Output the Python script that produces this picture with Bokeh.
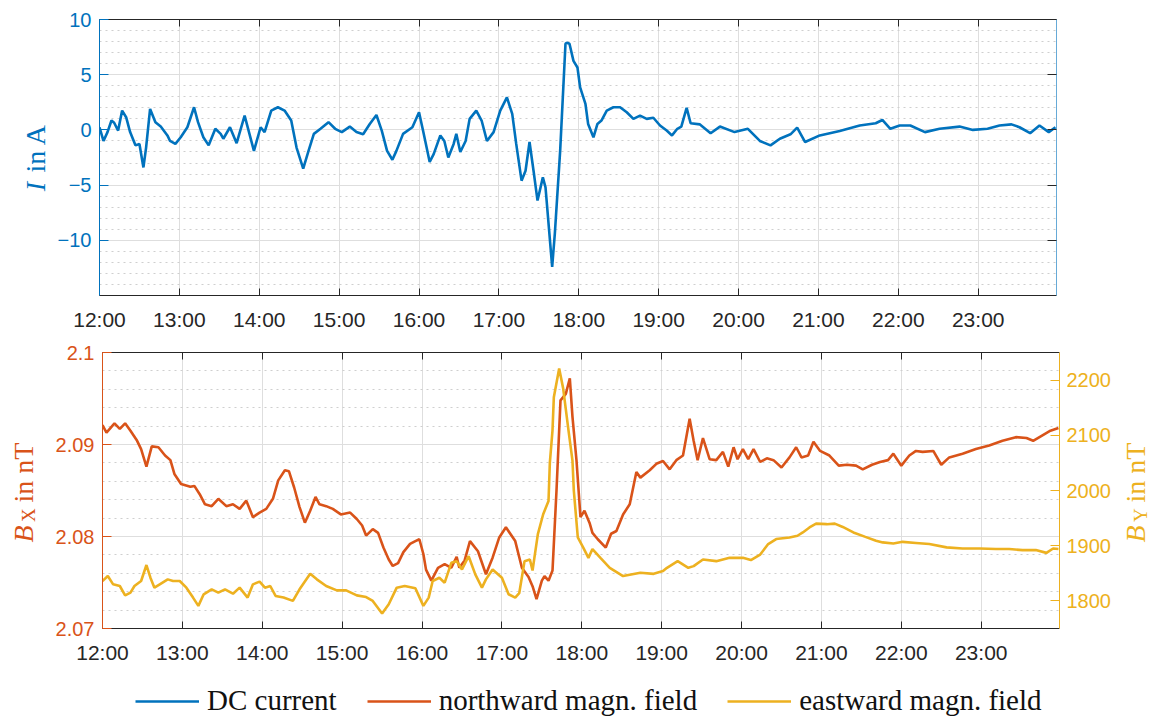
import numpy as np
from bokeh.plotting import figure
from bokeh.models import (Range1d, LinearAxis, FixedTicker, SingleIntervalTicker, Grid,
                          Legend, LegendItem)
from bokeh.layouts import column, row
from bokeh.embed import file_html
from bokeh.resources import INLINE

# ---------------- data (time in minutes after 12:00) ----------------
hour_ticks = [0, 60, 120, 180, 240, 300, 360, 420, 480, 540, 600, 660]
hour_labels = ["12:00", "13:00", "14:00", "15:00", "16:00", "17:00",
               "18:00", "19:00", "20:00", "21:00", "22:00", "23:00"]
cur_ticks = [-10, -5, 0, 5, 10]

cur_t = [0, 3, 6, 9, 11, 14, 17, 20, 23, 27, 30, 33, 35, 38, 42, 46, 51, 53, 57, 61,
         66, 71, 74, 78, 82, 87, 91, 93, 98, 103, 109, 116, 121, 124, 129, 134, 139, 144,
         148, 153, 157, 161, 166, 172, 177, 182, 188, 193, 198, 203, 208, 212, 216, 220,
         223, 228, 235, 240, 243, 248, 251, 256, 259, 262, 266, 268, 271, 275, 278, 283,
         287, 291, 296, 301, 306, 310, 313, 317, 320, 323, 326, 329, 333, 335, 340, 342,
         346, 350, 351, 353, 356, 359, 361, 365, 367, 371, 374, 377, 381, 386, 391, 396,
         401, 406, 411, 416, 421, 426, 430, 434, 437, 441, 444, 451, 459, 466, 477, 487,
         496, 504, 511, 519, 524, 530, 541, 556, 571, 583, 588, 594, 601, 609, 620, 631,
         646, 656, 667, 676, 685, 691, 699, 706, 713, 718]
cur_v = [0.23, -1.0, -0.2, 0.85, 0.65, -0.06, 1.75, 1.15, -0.2, -1.4, -1.27, -3.4, -1.6,
         1.9, 0.7, 0.3, -0.5, -1.0, -1.27, -0.67, 0.24, 2.05, 0.7, -0.67, -1.4, 0.1, -0.36,
         -0.8, 0.24, -1.2, 1.3, -1.9, 0.24, -0.2, 1.75, 2.05, 1.75, 0.85, -1.6, -3.5, -1.9,
         -0.36, 0.1, 0.7, 0.1, -0.2, 0.3, -0.2, -0.4, 0.54, 1.35, -0.06, -1.9, -2.7, -1.9,
         -0.36, 0.24, 1.6, -0.06, -2.9, -2.2, -0.5, -1.0, -2.5, -1.27, -0.36, -2.0, -1.0,
         1.0, 1.75, 0.85, -1.0, -0.2, 1.75, 2.95, 1.45, -1.27, -4.6, -3.7, -1.1, -3.7,
         -6.4, -4.3, -5.2, -12.4, -9.4, -1.9, 7.8, 7.9, 7.8, 6.25, 5.65, 3.85, 2.35, 0.54,
         -0.67, 0.54, 0.85, 1.75, 2.05, 2.05, 1.6, 1.0, 1.3, 1.0, 1.1, 0.4, -0.06, -0.5,
         0.1, 0.3, 2.0, 0.6, 0.5, -0.3, 0.3, -0.2, 0.1, -1.0, -1.4, -0.8, -0.4, 0.2, -1.1,
         -0.5, -0.1, 0.4, 0.6, 0.9, 0.1, 0.4, 0.4, -0.2, 0.1, 0.3, 0.0, 0.1, 0.4, 0.5,
         0.24, -0.3, 0.4, -0.2, 0.24]

bx_t = [0, 3, 9, 13, 17, 21, 26, 29, 33, 37, 42, 47, 51, 54, 59, 66, 69, 73, 77, 82, 87,
        93, 98, 103, 108, 113, 118, 123, 128, 132, 137, 140, 144, 148, 152, 156, 160, 163,
        168, 173, 179, 186, 191, 195, 198, 203, 207, 211, 215, 218, 222, 226, 231, 235,
        238, 241, 243, 247, 252, 257, 262, 266, 268, 272, 276, 282, 288, 293, 298, 303,
        310, 315, 320, 323, 326, 330, 332, 335, 338, 341, 344, 348, 351, 353, 356, 359,
        362, 366, 368, 372, 378, 382, 386, 391, 396, 401, 404, 411, 416, 421, 426, 431,
        436, 441, 444, 447, 451, 456, 461, 466, 470, 474, 477, 481, 485, 489, 494, 499,
        504, 510, 516, 521, 525, 530, 534, 539, 546, 553, 559, 566, 571, 578, 584, 590,
        594, 600, 606, 611, 616, 624, 630, 636, 646, 656, 666, 676, 686, 694, 699, 706,
        712, 718]
bx_v = [2.0921, 2.0913, 2.0923, 2.0917, 2.0923, 2.0915, 2.0904, 2.0895, 2.0876, 2.0898,
        2.0897, 2.0888, 2.0883, 2.0868, 2.0857, 2.0854, 2.0855, 2.0846, 2.0835, 2.0833,
        2.0841, 2.0833, 2.0835, 2.0830, 2.0839, 2.0821, 2.0826, 2.0830, 2.0841, 2.0861,
        2.0872, 2.0871, 2.0853, 2.0832, 2.0815, 2.0828, 2.0843, 2.0835, 2.0833, 2.0830,
        2.0824, 2.0826, 2.0819, 2.0812, 2.0801, 2.0808, 2.0804, 2.0788, 2.0775, 2.0768,
        2.0771, 2.0783, 2.0792, 2.0795, 2.0797, 2.0781, 2.0764, 2.0752, 2.0766, 2.0770,
        2.0766, 2.0778, 2.0766, 2.0774, 2.0795, 2.0784, 2.0759, 2.0777, 2.0799, 2.0810,
        2.0795, 2.0766, 2.0756, 2.0746, 2.0732, 2.0752, 2.0757, 2.0752, 2.0763, 2.0850,
        2.0948, 2.0955, 2.0972, 2.0930, 2.0883, 2.0821, 2.0828, 2.0814, 2.0804, 2.0797,
        2.0788, 2.0803, 2.0806, 2.0824, 2.0835, 2.0870, 2.0864, 2.0872, 2.0879, 2.0882,
        2.0873, 2.0883, 2.0888, 2.0928, 2.0904, 2.0883, 2.0907, 2.0884, 2.0883, 2.0892,
        2.0876, 2.0897, 2.0884, 2.0895, 2.0884, 2.0895, 2.0881, 2.0885, 2.0883, 2.0875,
        2.0886, 2.0897, 2.0886, 2.0888, 2.0903, 2.0893, 2.0888, 2.0877, 2.0878, 2.0877,
        2.0873, 2.0878, 2.0881, 2.0883, 2.0890, 2.0877, 2.0888, 2.0893, 2.0892, 2.0893,
        2.0878, 2.0886, 2.0890, 2.0895, 2.0899, 2.0904, 2.0908, 2.0907, 2.0904, 2.0910,
        2.0915, 2.0918]

by_t = [0, 4, 8, 13, 17, 21, 24, 29, 33, 36, 39, 43, 49, 53, 58, 63, 68, 72, 76, 82, 87,
        92, 98, 103, 109, 113, 118, 122, 126, 130, 136, 143, 148, 156, 161, 168, 176, 183,
        191, 198, 203, 210, 215, 221, 227, 235, 241, 245, 248, 253, 257, 262, 266, 270,
        275, 280, 285, 288, 293, 300, 305, 310, 313, 317, 321, 323, 327, 331, 335, 336,
        338, 339, 343, 346, 350, 353, 354, 357, 361, 365, 368, 374, 381, 391, 404, 414,
        421, 424, 432, 440, 444, 451, 461, 471, 481, 487, 494, 500, 506, 516, 522, 526,
        531, 536, 544, 550, 556, 564, 573, 581, 586, 594, 601, 611, 621, 634, 646, 659,
        671, 681, 691, 701, 709, 714, 718]
by_v = [1836, 1845, 1830, 1827, 1810, 1815, 1827, 1836, 1865, 1842, 1824, 1830, 1839, 1836,
        1836, 1824, 1806, 1791, 1812, 1821, 1815, 1821, 1813, 1824, 1806, 1830, 1835, 1824,
        1827, 1809, 1806, 1800, 1821, 1849, 1839, 1827, 1819, 1819, 1810, 1807, 1800, 1777,
        1794, 1824, 1827, 1823, 1791, 1806, 1836, 1842, 1833, 1869, 1872, 1857, 1881, 1848,
        1824, 1839, 1857, 1842, 1812, 1806, 1814, 1872, 1875, 1855, 1921, 1957, 1981, 2050,
        2109, 2169, 2221, 2185, 2109, 2054, 2000, 1915, 1897, 1878, 1894, 1878, 1860, 1845,
        1851, 1849, 1854, 1860, 1872, 1860, 1863, 1875, 1872, 1878, 1878, 1874, 1884, 1903,
        1912, 1915, 1918, 1924, 1933, 1940, 1939, 1940, 1934, 1924, 1916, 1909, 1906, 1904,
        1907, 1905, 1903, 1897, 1895, 1895, 1894, 1894, 1892, 1892, 1887, 1895, 1894]

# ---------------- styling ----------------
BLUE = "#0072BD"
ORANGE = "#D95319"
YELLOW = "#EDB120"
DARK = "#262626"
GRID = "#dedede"
MINOR = "#cfcfcf"
TICK_FONT = "Liberation Sans"
LAB_FONT = "Liberation Serif"
FW, FH = 957, 276
X_END = 718.8
LW, RW = 52, 45          # label strip widths
ML, MR = 47, 52          # plot borders left / right
H1 = 19 + FH + 45        # top row height
H2 = 12 + FH + 34        # bottom row height
TOTAL_W = LW + ML + FW + MR + RW


def style_axis(ax, color, label_color=None, show=True, standoff=8, tick=8):
    ax.axis_line_color = color
    ax.axis_line_width = 1
    ax.major_tick_line_color = color
    ax.major_tick_in = tick
    ax.major_tick_out = 0
    ax.minor_tick_in = 0
    ax.minor_tick_out = 0
    ax.major_label_text_font = TICK_FONT
    ax.major_label_standoff = standoff if show else 0
    if show:
        ax.major_label_text_font_size = "20px"
        ax.major_label_text_color = label_color or color
    else:
        ax.major_label_text_font_size = "0px"
        ax.major_label_text_alpha = 0


def make_fig(y_range, yticker, top, bottom, right):
    p = figure(frame_width=FW, frame_height=FH, x_range=Range1d(0, X_END), y_range=y_range,
               x_axis_type=None, y_axis_type=None, output_backend="svg",
               toolbar_location=None, min_border_left=ML, min_border_right=right,
               min_border_top=top, min_border_bottom=bottom)
    p.outline_line_color = None
    p.background_fill_color = "white"
    p.border_fill_color = "white"
    xt = FixedTicker(ticks=hour_ticks)
    overrides = {t: l for t, l in zip(hour_ticks, hour_labels)}
    xb = LinearAxis(ticker=xt, major_label_overrides=overrides)
    style_axis(xb, DARK, DARK, True, standoff=12, tick=7)
    xb.major_label_text_font_size = "21px"
    p.add_layout(xb, "below")
    xa = LinearAxis(ticker=xt)
    style_axis(xa, DARK, show=False, tick=7)
    p.add_layout(xa, "above")
    p.add_layout(Grid(dimension=0, ticker=xt, grid_line_color=GRID, grid_line_width=1))
    p.add_layout(Grid(dimension=1, ticker=yticker, grid_line_color=GRID, grid_line_width=1,
                      minor_grid_line_color=MINOR, minor_grid_line_dash="2 4",
                      minor_grid_line_width=1))
    return p


def blank(w, h, yr=None, left=0):
    s = figure(frame_width=w - left, frame_height=h, x_range=Range1d(0, 1),
               y_range=yr if yr is not None else Range1d(0, 1),
               x_axis_type=None, y_axis_type=None, output_backend="svg",
               toolbar_location=None, min_border=0, min_border_left=left,
               min_border_right=0, min_border_top=0, min_border_bottom=0)
    s.outline_line_color = None
    s.background_fill_color = "white"
    s.border_fill_color = "white"
    return s


def piece(text, w, h, left, color, size, style="normal"):
    """A slim figure whose (invisible) left axis carries one piece of a rotated label."""
    m = blank(w, h, left=left)
    ax = LinearAxis(ticker=FixedTicker(ticks=[]), axis_label=text)
    ax.axis_line_color = None
    ax.major_tick_line_color = None
    ax.minor_tick_line_color = None
    ax.major_tick_in = ax.major_tick_out = 0
    ax.major_label_text_font_size = "0px"
    ax.major_label_standoff = 0
    ax.axis_label_standoff = 0
    ax.axis_label_text_font = LAB_FONT
    ax.axis_label_text_font_size = f"{size}px"
    ax.axis_label_text_font_style = style
    ax.axis_label_text_color = color
    m.add_layout(ax, "left")
    return m


def label_column(w, total_h, parts):
    """parts: list of (text, y_top, y_bottom, left_border, color, size, style) in row px."""
    kids = []
    y = 0
    for text, y0, y1, left, color, size, style in parts:
        if y0 > y:
            kids.append(blank(w, y0 - y))
        kids.append(piece(text, w, y1 - y0, left, color, size, style))
        y = y1
    if total_h > y:
        kids.append(blank(w, total_h - y))
    return column(*kids, spacing=0)


# ---------------- top panel: DC current ----------------
yt1 = FixedTicker(ticks=cur_ticks, minor_ticks=list(range(-15, 11)))
p1 = make_fig(Range1d(-15, 10), yt1, top=19, bottom=45, right=MR + RW)
yl1 = LinearAxis(ticker=yt1)
style_axis(yl1, BLUE, BLUE, True, tick=9)
p1.add_layout(yl1, "left")
yr1 = LinearAxis(ticker=yt1)
style_axis(yr1, BLUE, show=False, tick=9)
yr1.axis_line_alpha = 0.6
yr1.major_tick_line_color = DARK
p1.add_layout(yr1, "right")
p1.line(cur_t, cur_v, line_color=BLUE, line_width=2.6)

l1 = label_column(LW, H1, [("in A", 118, 177, 50, BLUE, 28, "normal"),
                           ("I", 177, 195, 50, BLUE, 28, "italic")])

# ---------------- bottom panel: magnetic field ----------------
yt2 = SingleIntervalTicker(interval=0.01, num_minor_ticks=5)
p2 = make_fig(Range1d(2.07, 2.1), yt2, top=12, bottom=34, right=MR)
p2.extra_y_ranges = {"by": Range1d(1750, 2250)}
yl2 = LinearAxis(ticker=yt2)
style_axis(yl2, ORANGE, ORANGE, True, tick=9)
p2.add_layout(yl2, "left")
yr2 = LinearAxis(y_range_name="by", ticker=SingleIntervalTicker(interval=100))
style_axis(yr2, YELLOW, YELLOW, True, standoff=7, tick=9)
p2.add_layout(yr2, "right")

p2.line(bx_t, bx_v, line_color=ORANGE, line_width=2.6)
p2.line(by_t, by_v, line_color=YELLOW, line_width=2.6, y_range_name="by")

l2 = label_column(LW, H2, [("in nT", 99, 165, 35, ORANGE, 28, "normal"),
                           ("X", 165, 184, 38, ORANGE, 19, "normal"),
                           ("B", 184, 203, 35, ORANGE, 28, "italic")])
r2 = label_column(RW, H2, [("in nT", 99, 165, 34, YELLOW, 28, "normal"),
                           ("Y", 165, 184, 37, YELLOW, 19, "normal"),
                           ("B", 184, 203, 34, YELLOW, 28, "italic")])

# ---------------- legend strip ----------------
# y-range far away from every series value, so the proxy lines stay hidden
HL = 721 - H1 - H2 - 2
lg = blank(TOTAL_W, HL, yr=Range1d(-1000, -999))
lg.x_range = Range1d(0, X_END)
d1 = lg.line(cur_t, cur_v, line_color=BLUE, line_width=2.6)
d2 = lg.line(bx_t, bx_v, line_color=ORANGE, line_width=2.6)
d3 = lg.line(by_t, by_v, line_color=YELLOW, line_width=2.6)
legend = Legend(items=[LegendItem(label="DC current", renderers=[d1]),
                       LegendItem(label="northward magn. field", renderers=[d2]),
                       LegendItem(label="eastward magn. field", renderers=[d3])],
                orientation="horizontal", location=(135, 6),
                label_text_font=LAB_FONT, label_text_font_size="29px",
                label_text_color="#111111",
                glyph_width=64, glyph_height=20, label_standoff=8, spacing=30,
                padding=0, margin=0, border_line_color=None, background_fill_alpha=0)
lg.add_layout(legend)

layout = column(row(l1, p1, spacing=0),
                row(l2, p2, r2, spacing=0),
                lg, spacing=0)
open("out.html", "w").write(file_html(layout, INLINE))
